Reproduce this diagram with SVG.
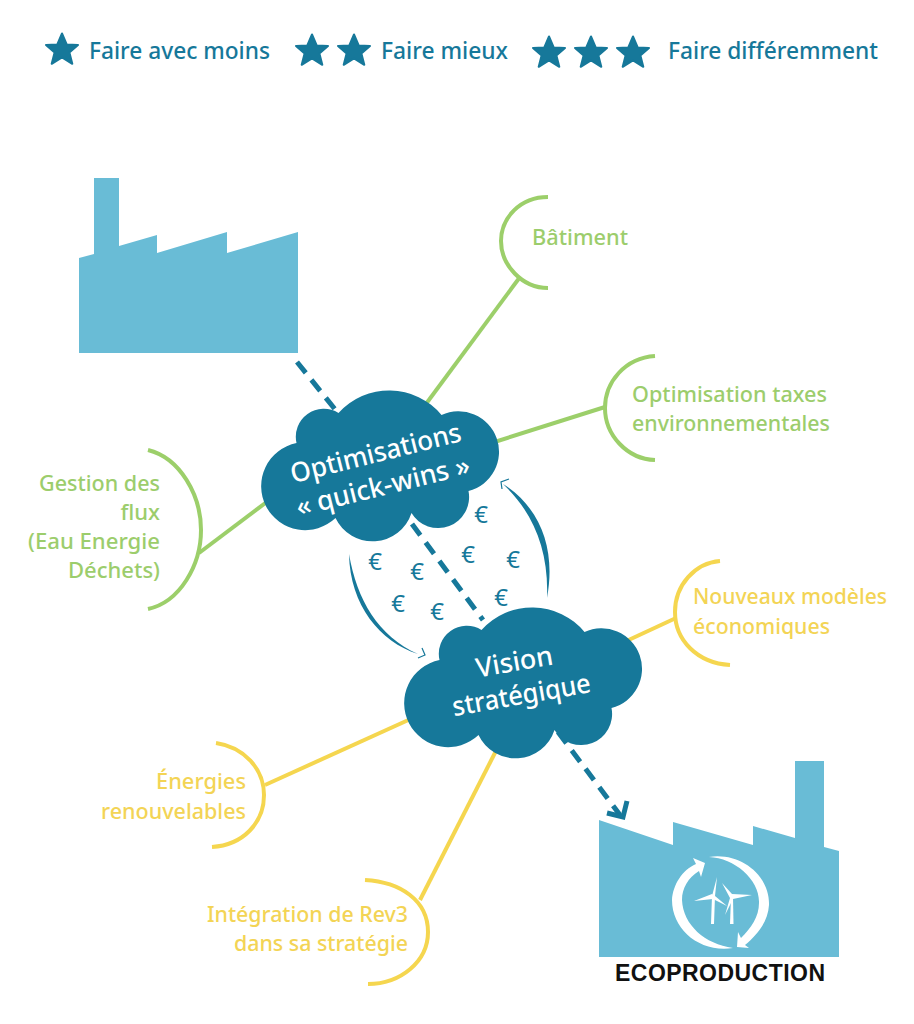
<svg xmlns="http://www.w3.org/2000/svg" width="914" height="1024" viewBox="0 0 914 1024">
<style>
text{font-family:"Noto Sans","Open Sans",sans-serif}
.leg{font-size:24px;font-weight:500;fill:#16789a}
.g{font-size:22px;font-weight:500;fill:#9ccd6c}
.y{font-size:22px;font-weight:500;fill:#f3d455}
.c{font-size:27px;font-weight:500;fill:#fff;text-anchor:middle}
.e{font-size:24px;fill:#16789a;text-anchor:middle}
.gl{fill:none;stroke:#9ccf6a;stroke-width:4}
.yl{fill:none;stroke:#f5d64f;stroke-width:4}
.d{fill:none;stroke:#16789a;stroke-width:5;stroke-dasharray:14 9}
.cl{fill:#16789a}
.f{fill:#69bcd6}
.s{fill:#16789a;stroke:#16789a;stroke-width:2;stroke-linejoin:round}
.w{fill:#fff}
</style>
<defs>
<polygon id="star" points="0,-16.500 4.800,-5.400 16,-5 7.400,2.400 10.300,13.800 0,7.400 -10.300,13.800 -7.400,2.400 -16,-5 -4.800,-5.400"/>
<path id="cloud" d="M0,0 A68,68 0 0 1 103,2 A40.500,40.500 0 1 1 130,78 A31,31 0 0 1 73,100 A41,41 0 0 1 -3,105 A44,44 0 1 1 -42,30 A28,28 0 0 1 0,0Z"/>
</defs>
<g id="connectors">
<path class="gl" d="M420,412L520,277"/>
<path class="gl" d="M485,445L605,407"/>
<path class="gl" d="M199,553L272,498"/>
<path class="yl" d="M620,644L676,618"/>
<path class="yl" d="M265,785L415,717"/>
<path class="yl" d="M420,900L500,743"/>
<path class="d" d="M297,362L338,413"/>
<path class="d" d="M412,524L483,620"/>
<path class="d" d="M558,732L620,815"/>
<path d="M607,813L623,817L627,801" fill="none" stroke="#16789a" stroke-width="5"/>
<path d="M349,554C357,600 378,636 418,654C380,642 350,605 349,554Z" fill="#16789a"/>
<path d="M422,648L425,655L418,658" fill="none" stroke="#16789a" stroke-width="1.200"/>
<path d="M547,598C549,550 533,512 503,484C541,508 556,550 547,598Z" fill="#16789a"/>
<path d="M509,479L501,482L502,489" fill="none" stroke="#16789a" stroke-width="1.200"/>
</g>
<g id="legend">
<use href="#star" class="s" x="62" y="50"/>
<text class="leg" x="89" y="59" textLength="181" lengthAdjust="spacingAndGlyphs">Faire avec moins</text>
<use href="#star" class="s" x="312" y="51"/>
<use href="#star" class="s" x="354" y="51"/>
<text class="leg" x="381" y="59" textLength="127" lengthAdjust="spacingAndGlyphs">Faire mieux</text>
<use href="#star" class="s" x="549" y="53"/>
<use href="#star" class="s" x="591" y="53"/>
<use href="#star" class="s" x="633" y="53"/>
<text class="leg" x="668" y="59" textLength="210" lengthAdjust="spacingAndGlyphs">Faire différemment</text>
</g>
<g id="factory-start">
<polygon class="f" points="79,353 79,258 94,254 94,178 119,178 119,246 157,235 157,253 227,232 227,253 298,232 298,353"/>
</g>
<g id="factory-eco">
<polygon class="f" points="599,957 599,820 673,845 673,822 753,845 753,826 795,838 795,761 824,761 824,847 839,851 839,957"/>
<path class="w" d="M709,857C740,852 770,875 769,905C768,922 757,935 745,945L749,948L737,947L738,932L741,938C751,928 759,917 759,903C760,880 735,858 709,857Z"/>
<path class="w" d="M733,948C700,953 672,930 672,900C673,885 682,870 696,864L693,858L705,863L701,877L699,871C688,878 682,888 682,900C683,925 705,944 733,948Z"/>
<path class="w" d="M711,924L712,896L717,877L715,896L714,924Z"/>
<path class="w" d="M694,901L712,894L715,896L727,906L713,899Z"/>
<path class="w" d="M730,924L731,897L733,897L733.500,924Z"/>
<path class="w" d="M722,883L732,894L752,895L733,899L725,915L730,898Z"/>
<text x="615" y="981" font-size="23" font-weight="bold" textLength="210" fill="#111" style="font-family:'Liberation Sans',Arial,sans-serif">ECOPRODUCTION</text>
</g>
<g id="batiment">
<path class="gl" d="M548,197C520,197 501,218 501,241C501,265 522,288 548,288"/>
<text class="g" x="532" y="245" textLength="96" lengthAdjust="spacingAndGlyphs">Bâtiment</text>
</g>
<g id="taxes">
<path class="gl" d="M655,356C625,358 605,382 605,408C605,435 627,459 655,460"/>
<text class="g" x="632" y="402" textLength="195" lengthAdjust="spacingAndGlyphs">Optimisation taxes</text>
<text class="g" x="632" y="431" textLength="198" lengthAdjust="spacingAndGlyphs">environnementales</text>
</g>
<g id="flux">
<path class="gl" d="M148,450C180,458 201,495 201,530C201,565 180,602 148,609"/>
<text class="g" x="39" y="491" textLength="121" lengthAdjust="spacingAndGlyphs">Gestion des</text>
<text class="g" text-anchor="end" x="160" y="520">flux</text>
<text class="g" x="28" y="549" textLength="132" lengthAdjust="spacingAndGlyphs">(Eau Energie</text>
<text class="g" x="68" y="578" textLength="92" lengthAdjust="spacingAndGlyphs">Déchets)</text>
</g>
<g id="modeles">
<path class="yl" d="M720,561C695,563 675,585 675,612C675,640 697,663 730,665"/>
<text class="y" x="693" y="604" textLength="194" lengthAdjust="spacingAndGlyphs">Nouveaux modèles</text>
<text class="y" x="693" y="634" textLength="137" lengthAdjust="spacingAndGlyphs">économiques</text>
</g>
<g id="energies">
<path class="yl" d="M216,743C243,747 264,768 264,795C264,823 243,845 212,847"/>
<text class="y" x="156" y="789" textLength="90" lengthAdjust="spacingAndGlyphs">Énergies</text>
<text class="y" x="101" y="819" textLength="145" lengthAdjust="spacingAndGlyphs">renouvelables</text>
</g>
<g id="rev3">
<path class="yl" d="M365,880C400,882 428,900 428,932C428,962 400,984 368,984"/>
<text class="y" x="207" y="922" textLength="201" lengthAdjust="spacingAndGlyphs">Intégration de Rev3</text>
<text class="y" x="234" y="951" textLength="174" lengthAdjust="spacingAndGlyphs">dans sa stratégie</text>
</g>
<g id="euros">
<text class="e" x="481" y="523">€</text>
<text class="e" x="468" y="563">€</text>
<text class="e" x="513" y="568">€</text>
<text class="e" x="375" y="570">€</text>
<text class="e" x="417" y="580">€</text>
<text class="e" x="398" y="612">€</text>
<text class="e" x="437" y="620">€</text>
<text class="e" x="501" y="606">€</text>
</g>
<g id="cloud-quickwins">
<use href="#cloud" class="cl" x="338.500" y="413"/>
<text class="c" transform="translate(378,462) rotate(-14)" textLength="175" lengthAdjust="spacingAndGlyphs">Optimisations</text>
<text class="c" transform="translate(385,495) rotate(-14)" textLength="178" lengthAdjust="spacingAndGlyphs">« quick-wins »</text>
</g>
<g id="cloud-vision">
<use href="#cloud" class="cl" x="481.500" y="630"/>
<text class="c" transform="translate(516,671) rotate(-10)">Vision</text>
<text class="c" transform="translate(523,704) rotate(-10)" textLength="140" lengthAdjust="spacingAndGlyphs">stratégique</text>
</g>
</svg>
